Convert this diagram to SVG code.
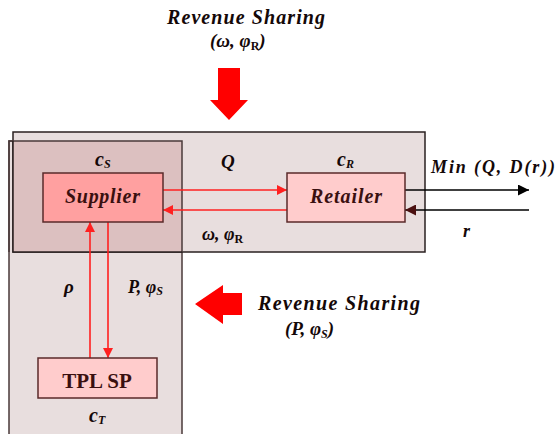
<svg xmlns="http://www.w3.org/2000/svg" width="556" height="434" viewBox="0 0 556 434">
<style>
.t{font-family:"Liberation Serif","DejaVu Serif",serif;font-weight:bold;font-style:italic;fill:#140808}
.n{font-family:"Liberation Serif","DejaVu Serif",serif;font-weight:bold;font-style:italic;fill:#3a1010;font-size:20px}
.box{stroke:#5a2a2a;stroke-width:1.5}
.red{stroke:#ff2020;stroke-width:1.6;fill:none}
.blk{stroke:#000;stroke-width:1.6;fill:none}
.sub{font-size:12px}
</style>
<defs>
<marker id="ar" viewBox="0 0 10 10" refX="10" refY="5" markerWidth="10" markerHeight="10" markerUnits="userSpaceOnUse" orient="auto"><path d="M0,0 L10,5 L0,10 z" fill="#ff2020"/></marker>
<marker id="ab" viewBox="0 0 10 10" refX="10" refY="5" markerWidth="11" markerHeight="11" markerUnits="userSpaceOnUse" orient="auto"><path d="M0,0 L10,5 L0,10 z" fill="#000"/></marker>
<marker id="abr" viewBox="0 0 10 10" refX="10" refY="5" markerWidth="11" markerHeight="11" markerUnits="userSpaceOnUse" orient="auto"><path d="M0,0 L10,5 L0,10 z" fill="#4a1010"/></marker>
</defs>
<g id="regions">
<rect x="9" y="141" width="173" height="300" fill="#e8dede" stroke="#4a3a3a" stroke-width="1.5"/>
<rect x="13" y="132" width="412" height="120" fill="#e8dede" stroke="#2a2020" stroke-width="1.5"/>
<rect x="13" y="141" width="169" height="111" fill="#dcc0c0"/>
<path d="M9,252 V141 H182 V252" fill="none" stroke="#4a3a3a" stroke-width="1.5"/>
<path d="M13,141 V252 H182" fill="none" stroke="#2a2020" stroke-width="1.5"/>
</g>
<g id="top-arrow">
<path d="M218,68 H240 V100 H248 L229,120 L210,100 H218 Z" fill="#ff0000"/>
<text class="t" x="167" y="24" font-size="20" textLength="158" lengthAdjust="spacing">Revenue Sharing</text>
<text class="t" x="210" y="47" font-size="19">(ω, φ<tspan font-style="normal" class="sub" dy="3">R</tspan><tspan dy="-3">)</tspan></text>
</g>
<g id="left-arrow">
<path d="M242,293 H223 V285 L195,304 L223,324 V315 H242 Z" fill="#ff0000"/>
<text class="t" x="258" y="310" font-size="20" textLength="162" lengthAdjust="spacing">Revenue Sharing</text>
<text class="t" x="285" y="335" font-size="19">(P, φ<tspan class="sub" dy="3">S</tspan><tspan dy="-3">)</tspan></text>
</g>
<g id="connectors">
<line class="red" x1="163" y1="190" x2="287" y2="190" marker-end="url(#ar)"/>
<line class="red" x1="287" y1="210" x2="163" y2="210" marker-end="url(#ar)"/>
<line class="red" x1="90" y1="358" x2="90" y2="222" marker-end="url(#ar)"/>
<line class="red" x1="108" y1="222" x2="108" y2="358" marker-end="url(#ar)"/>
<line class="blk" x1="405" y1="190" x2="529" y2="190" marker-end="url(#ab)"/>
<line class="blk" x1="529" y1="210" x2="405" y2="210" marker-end="url(#abr)"/>
</g>
<g id="supplier">
<rect class="box" x="43" y="173" width="120" height="49" fill="#ffa0a0"/>
<text class="n" x="65" y="203" textLength="75" lengthAdjust="spacing">Supplier</text>
<text class="t" x="95" y="166" font-size="20">c<tspan class="sub" font-size="13" dy="2">S</tspan></text>
</g>
<g id="retailer">
<rect class="box" x="287" y="173" width="118" height="49" fill="#ffcccc"/>
<text class="n" x="310" y="203" textLength="72" lengthAdjust="spacing">Retailer</text>
<text class="t" x="337" y="166" font-size="20">c<tspan class="sub" font-size="13" dy="2">R</tspan></text>
</g>
<g id="tplsp">
<rect class="box" x="38" y="358" width="119" height="40" fill="#ffcccc"/>
<text x="97" y="388" text-anchor="middle" font-family="Liberation Serif, serif" font-weight="bold" font-size="21" fill="#3a1010">TPL SP</text>
<text class="t" x="89" y="422" font-size="20">c<tspan class="sub" font-size="13" dy="2">T</tspan></text>
</g>
<g id="labels">
<text class="t" x="221" y="168" font-size="19">Q</text>
<text class="t" x="202" y="240" font-size="18">ω, φ<tspan font-style="normal" class="sub" dy="3">R</tspan></text>
<text class="t" x="431" y="173" font-size="18" textLength="124" lengthAdjust="spacing">Min (Q, D(r))</text>
<text class="t" x="463" y="237" font-size="18">r</text>
<text class="t" x="64" y="293" font-size="19">ρ</text>
<text class="t" x="128" y="293" font-size="18">P, φ<tspan class="sub" dy="2">S</tspan></text>
</g>
</svg>
